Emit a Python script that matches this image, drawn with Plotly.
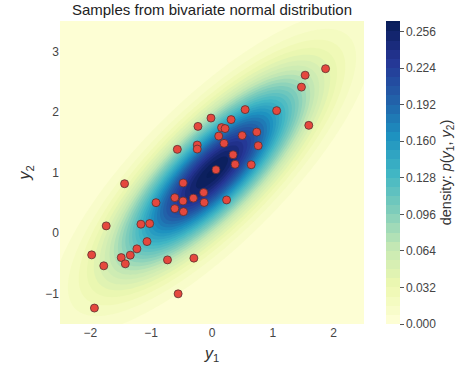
import numpy as np
import plotly.graph_objects as go

# Distribution parameters (bivariate normal)
mean = [0.0, 1.0]
cov = [[1.0, 0.8], [0.8, 1.0]]

# Samples
sample_y1 = [1.868, 1.532, 1.471, 0.545, 1.063, -0.017, 0.314, -0.231, 0.157, 0.215,
             1.592, 0.736, 0.111, 0.496, -0.570, -0.243, -0.243, 0.198, 0.760, 0.347,
             0.380, 0.645, 0.066, -0.474, -1.438, -0.137, -0.921, -0.612, -0.476, -0.306,
             -0.129, -0.612, -0.469, 0.240, -1.740, -1.169, -1.025, -1.069, -1.235, -1.979,
             -1.493, -1.344, -1.426, -1.780, -0.732, -0.298, -0.557, -1.934]
sample_y2 = [2.713, 2.606, 2.409, 2.038, 2.021, 1.898, 1.873, 1.761, 1.741, 1.725,
             1.778, 1.667, 1.601, 1.610, 1.382, 1.453, 1.387, 1.481, 1.442, 1.293,
             1.135, 1.128, 1.046, 0.827, 0.815, 0.670, 0.502, 0.585, 0.530, 0.577,
             0.506, 0.404, 0.354, 0.547, 0.119, 0.147, 0.157, -0.140, -0.260, -0.359,
             -0.404, -0.364, -0.507, -0.540, -0.442, -0.413, -1.002, -1.237]

cbar_ticks = [0.000, 0.032, 0.064, 0.096, 0.128, 0.160, 0.192, 0.224, 0.256]
x_ticks = [-2, -1, 0, 1, 2]
y_ticks = [-1, 0, 1, 2, 3]

# Density grid
g1 = np.linspace(-2.5, 2.5, 100)
g2 = np.linspace(-1.5, 3.5, 100)
X1, X2 = np.meshgrid(g1, g2)
S = np.array(cov)
Sinv = np.linalg.inv(S)
d1 = X1 - mean[0]
d2 = X2 - mean[1]
q = Sinv[0, 0] * d1 * d1 + 2 * Sinv[0, 1] * d1 * d2 + Sinv[1, 1] * d2 * d2
Z = np.exp(-0.5 * q) / (2 * np.pi * np.sqrt(np.linalg.det(S)))

ylgnbu = [
    [0.000, "#ffffd9"], [0.125, "#edf8b1"], [0.250, "#c7e9b4"], [0.375, "#7fcdbb"],
    [0.500, "#41b6c4"], [0.625, "#1d91c0"], [0.750, "#225ea8"], [0.875, "#253494"],
    [1.000, "#081d58"],
]

fig = go.Figure()
fig.add_trace(go.Contour(
    x=g1, y=g2, z=Z,
    colorscale=ylgnbu,
    zmin=0, zmax=float(Z.max()),
    contours=dict(start=0, end=0.264, size=0.008, coloring="fill", showlines=False),
    line=dict(width=0),
    colorbar=dict(
        xref="container", x=386 / 474, xanchor="left", xpad=0, ypad=0,
        y=0.5, yanchor="middle", len=1, lenmode="fraction",
        thickness=14, outlinewidth=0,
        tickvals=cbar_ticks, ticktext=[f"{v:.3f}" for v in cbar_ticks],
        ticks="outside", ticklen=4, tickcolor="#555", tickwidth=1,
        tickfont=dict(size=12, color="#444", family="Liberation Sans, Arial"),
        title=dict(text="density: <i>p</i>(<i>y</i><sub>1</sub>, <i>y</i><sub>2</sub>)",
                   side="right", font=dict(size=14.5, color="#333", family="Liberation Sans, Arial")),
    ),
    hoverinfo="skip",
))
fig.add_trace(go.Scatter(
    x=sample_y1, y=sample_y2, mode="markers",
    marker=dict(size=8, color="#e5483e", line=dict(width=0.8, color="#5a3030")),
    showlegend=False,
))

fig.update_layout(
    width=474, height=378,
    margin=dict(l=60, r=110, t=21, b=54, autoexpand=False),
    paper_bgcolor="white", plot_bgcolor="white",
    font=dict(family="Liberation Sans, Arial", color="#444"),
    title=dict(text="Samples from bivariate normal distribution",
               xref="container", x=212 / 474, xanchor="center",
               yref="container", y=1 - 10 / 378, yanchor="middle",
               font=dict(size=15, color="#222")),
    showlegend=False,
)
fig.update_xaxes(range=[-2.5, 2.5], tickvals=x_ticks, showgrid=False, zeroline=False,
                 showline=False, ticks="", tickfont=dict(size=12, color="#444"),
                 title=dict(text="<i>y</i><sub>1</sub>", font=dict(size=16, color="#333"), standoff=8))
fig.update_yaxes(range=[-1.5, 3.5], tickvals=y_ticks, showgrid=False, zeroline=False,
                 showline=False, ticks="", tickfont=dict(size=12, color="#444"),
                 title=dict(text="<i>y</i><sub>2</sub>", font=dict(size=16, color="#333"), standoff=10))

fig.write_html("out.html", config={"displayModeBar": False},
               post_script="document.body.style.margin='0';")
